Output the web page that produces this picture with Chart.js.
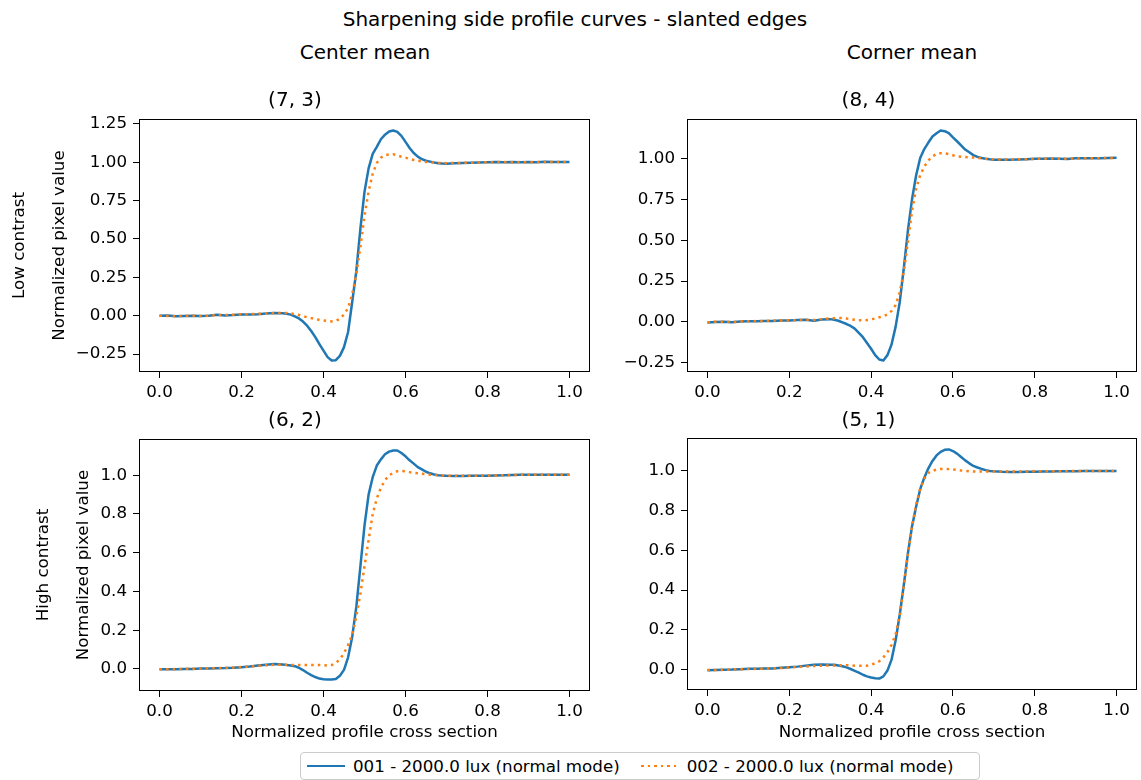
<!DOCTYPE html>
<html>
<head>
<meta charset="utf-8">
<title>Sharpening side profile curves - slanted edges</title>
<script src="https://cdn.jsdelivr.net/npm/chart.js@4.4.1/dist/chart.umd.min.js"></script>
<style>
  body { margin: 0; background: #fff; }
  #figure { position: relative; width: 1141px; height: 780px; overflow: hidden;
            font-family: 'DejaVu Sans', sans-serif; color: #000; }
  #figure canvas { position: absolute; }
  .label { position: absolute; transform: translate(-50%, -50%); white-space: nowrap; font-size: 20px; }
  #legend { position: absolute; left: 300px; top: 752px; width: 678px; height: 26px;
            border: 1px solid #cccccc; border-radius: 4px; background: #fff;
            display: flex; align-items: center; font-size: 16.7px; }
  .legend-item { display: flex; align-items: center; }
  .swatch { width: 38px; height: 2.5px; margin-right: 8px; }
</style>
</head>
<body>
<div id="figure">
  <div class="label" style="left:575px;top:19px">Sharpening side profile curves - slanted edges</div>
  <div class="label" style="left:365px;top:52px">Center mean</div>
  <div class="label" style="left:912px;top:52px">Corner mean</div>

  <canvas id="tl" width="600" height="320" style="left:0;top:80px;width:600px;height:320px"></canvas>
  <canvas id="tr" width="541" height="320" style="left:600px;top:80px;width:541px;height:320px"></canvas>
  <canvas id="bl" width="600" height="350" style="left:0;top:400px;width:600px;height:350px"></canvas>
  <canvas id="br" width="541" height="350" style="left:600px;top:400px;width:541px;height:350px"></canvas>

  <div id="legend"></div>
</div>

<script>
// x positions of the profile samples (finer through the edge)
const profileX = [
  0, 0.02, 0.04, 0.06, 0.08, 0.10, 0.12, 0.14, 0.16, 0.18, 0.20, 0.22, 0.24, 0.26, 0.28, 0.30,
  0.31, 0.32, 0.33, 0.34, 0.35, 0.36, 0.37, 0.38, 0.39, 0.40, 0.41, 0.42, 0.43, 0.44, 0.45, 0.46, 0.47, 0.48, 0.49, 0.50,
  0.51, 0.52, 0.53, 0.54, 0.55, 0.56, 0.57, 0.58, 0.59, 0.60, 0.61, 0.62, 0.63, 0.64, 0.65, 0.66, 0.67, 0.68, 0.69,
  0.70, 0.72, 0.74, 0.76, 0.78, 0.80, 0.82, 0.84, 0.86, 0.88, 0.90, 0.92, 0.94, 0.96, 0.98, 1.00
];

const seriesLabels = ['001 - 2000.0 lux (normal mode)', '002 - 2000.0 lux (normal mode)'];
const panelTitles = ['(7, 3)', '(8, 4)', '(6, 2)', '(5, 1)'];
const rowLabels = ['Low contrast', 'High contrast'];

// Center mean, low contrast (7, 3)
const centerLow001 = [
  0.000, 0.002, -0.004, -0.002, -0.001, -0.002, -0.001, 0.006, 0.002, 0.004, 0.008, 0.008, 0.010, 0.014, 0.017, 0.016,
  0.013, 0.007, -0.004, -0.018, -0.038, -0.065, -0.100, -0.140, -0.185, -0.228, -0.270, -0.292, -0.290, -0.262, -0.205, -0.106, 0.089, 0.290, 0.567, 0.807,
  0.960, 1.055, 1.100, 1.150, 1.180, 1.200, 1.207, 1.198, 1.172, 1.133, 1.093, 1.060, 1.037, 1.020, 1.010, 1.004, 0.998, 0.994, 0.992,
  0.991, 0.993, 0.995, 0.997, 0.998, 1.000, 1.002, 1.000, 1.002, 1.000, 1.001, 1.000, 1.003, 1.002, 1.002, 1.002
];
const centerLow002 = [
  0.000, -0.002, -0.003, -0.001, 0.000, -0.002, 0.000, 0.004, 0.004, 0.006, 0.009, 0.010, 0.012, 0.015, 0.017, 0.018,
  0.018, 0.015, 0.010, 0.004, -0.003, -0.010, -0.016, -0.022, -0.027, -0.031, -0.035, -0.037, -0.033, -0.020, 0.008, 0.050, 0.140, 0.270, 0.450, 0.650,
  0.810, 0.925, 0.995, 1.030, 1.046, 1.051, 1.052, 1.045, 1.036, 1.030, 1.022, 1.015, 1.010, 1.005, 1.002, 1.000, 0.998, 0.996, 0.995,
  0.994, 0.995, 0.996, 0.997, 0.999, 1.000, 1.001, 1.001, 1.000, 1.001, 1.000, 1.001, 1.002, 1.002, 1.001, 1.001
];

// Corner mean, low contrast (8, 4)
const cornerLow001 = [
  -0.004, -0.002, 0.000, -0.003, 0.002, 0.003, 0.003, 0.004, 0.005, 0.008, 0.008, 0.010, 0.012, 0.006, 0.014, 0.016,
  0.012, 0.006, -0.004, -0.014, -0.026, -0.042, -0.068, -0.095, -0.130, -0.166, -0.205, -0.232, -0.238, -0.205, -0.140, -0.030, 0.120, 0.330, 0.560, 0.750,
  0.898, 1.005, 1.060, 1.100, 1.137, 1.157, 1.174, 1.170, 1.158, 1.132, 1.108, 1.083, 1.057, 1.040, 1.023, 1.012, 1.005, 1.000, 0.997,
  0.995, 0.994, 0.995, 0.996, 0.998, 1.000, 1.000, 1.002, 1.001, 0.999, 1.003, 1.004, 1.003, 1.004, 1.005, 1.006
];
const cornerLow002 = [
  -0.004, 0.000, 0.000, -0.002, 0.002, 0.003, 0.004, 0.004, 0.008, 0.008, 0.009, 0.010, 0.012, 0.010, 0.016, 0.020,
  0.022, 0.023, 0.022, 0.020, 0.016, 0.012, 0.009, 0.008, 0.010, 0.015, 0.020, 0.027, 0.033, 0.045, 0.066, 0.103, 0.180, 0.310, 0.490, 0.680,
  0.815, 0.900, 0.952, 0.990, 1.015, 1.030, 1.035, 1.034, 1.029, 1.022, 1.016, 1.013, 1.011, 1.010, 1.008, 1.006, 1.003, 1.000, 0.998,
  0.997, 0.996, 0.996, 0.997, 0.998, 1.000, 1.000, 1.002, 1.001, 1.000, 1.002, 1.003, 1.003, 1.004, 1.005, 1.006
];

// Center mean, high contrast (6, 2)
const centerHigh001 = [
  -0.002, -0.002, -0.002, 0.000, 0.000, 0.002, 0.002, 0.003, 0.004, 0.006, 0.009, 0.012, 0.017, 0.021, 0.025, 0.023,
  0.020, 0.018, 0.014, 0.006, -0.006, -0.020, -0.032, -0.042, -0.050, -0.054, -0.055, -0.055, -0.052, -0.035, -0.005, 0.060, 0.165, 0.320, 0.530, 0.740,
  0.900, 0.990, 1.050, 1.082, 1.108, 1.122, 1.128, 1.128, 1.115, 1.098, 1.077, 1.060, 1.042, 1.030, 1.018, 1.010, 1.004, 1.000, 0.998,
  0.997, 0.996, 0.996, 0.997, 0.998, 0.998, 0.999, 1.000, 1.001, 1.002, 1.003, 1.003, 1.003, 1.003, 1.003, 1.003
];
const centerHigh002 = [
  -0.002, -0.002, -0.001, 0.000, 0.001, 0.002, 0.003, 0.004, 0.005, 0.007, 0.010, 0.012, 0.016, 0.019, 0.021, 0.021,
  0.021, 0.020, 0.020, 0.020, 0.020, 0.020, 0.020, 0.020, 0.020, 0.019, 0.017, 0.020, 0.030, 0.050, 0.080, 0.125, 0.175, 0.270, 0.390, 0.530,
  0.665, 0.800, 0.880, 0.936, 0.974, 1.000, 1.012, 1.021, 1.022, 1.020, 1.016, 1.012, 1.010, 1.008, 1.005, 1.003, 1.001, 1.000, 0.999,
  0.998, 0.997, 0.997, 0.998, 0.998, 0.999, 0.999, 1.000, 1.001, 1.002, 1.003, 1.003, 1.003, 1.003, 1.003, 1.003
];

// Corner mean, high contrast (5, 1)
const cornerHigh001 = [
  -0.003, -0.002, -0.001, 0.000, 0.002, 0.004, 0.004, 0.005, 0.006, 0.009, 0.012, 0.015, 0.020, 0.024, 0.026, 0.025,
  0.024, 0.021, 0.017, 0.011, 0.003, -0.006, -0.015, -0.026, -0.034, -0.040, -0.044, -0.045, -0.034, -0.005, 0.050, 0.148, 0.276, 0.427, 0.585, 0.720,
  0.820, 0.908, 0.966, 1.013, 1.050, 1.078, 1.096, 1.106, 1.108, 1.100, 1.087, 1.070, 1.053, 1.038, 1.025, 1.017, 1.010, 1.004, 1.000,
  0.998, 0.996, 0.995, 0.995, 0.996, 0.996, 0.997, 0.997, 0.998, 0.998, 0.998, 0.999, 0.999, 1.000, 1.000, 1.000
];
const cornerHigh002 = [
  -0.002, -0.002, -0.001, 0.001, 0.002, 0.003, 0.004, 0.005, 0.006, 0.008, 0.011, 0.013, 0.016, 0.018, 0.020, 0.021,
  0.021, 0.022, 0.022, 0.022, 0.021, 0.020, 0.020, 0.020, 0.020, 0.024, 0.032, 0.042, 0.062, 0.088, 0.125, 0.176, 0.270, 0.420, 0.580, 0.720,
  0.830, 0.910, 0.960, 0.990, 1.000, 1.007, 1.010, 1.010, 1.009, 1.007, 1.005, 1.002, 1.000, 0.998, 0.997, 0.997, 0.997, 0.997, 0.997,
  0.997, 0.997, 0.997, 0.997, 0.997, 0.998, 0.998, 0.998, 0.998, 0.999, 0.999, 0.999, 0.999, 1.000, 1.000, 1.000
];

// tick values
const xTickValues = [0, 0.2, 0.4, 0.6, 0.8, 1.0];
const yTicksCenterLow = [-0.25, 0, 0.25, 0.5, 0.75, 1.0, 1.25];
const yTicksCornerLow = [-0.25, 0, 0.25, 0.5, 0.75, 1.0];
const yTicksHigh = [0, 0.2, 0.4, 0.6, 0.8, 1.0];

const BLUE = '#1f77b4';
const ORANGE = '#ff7f0e';

Chart.defaults.font.family = "'DejaVu Sans', sans-serif";
Chart.defaults.color = '#000';

function fmt(v, d) {
    return (v < 0 ? '\u2212' : '') + Math.abs(v).toFixed(d);
}

function toPoints(ys) {
    return profileX.map((x, i) => ({ x: x, y: ys[i] }));
}

// matplotlib-like box round the plot area
const framePlugin = {
    id: 'frame',
    afterDraw(chart) {
        const { ctx, chartArea: a } = chart;
        ctx.save();
        ctx.strokeStyle = '#000';
        ctx.lineWidth = 1;
        ctx.strokeRect(Math.round(a.left) + 0.5, Math.round(a.top) + 0.5,
            Math.round(a.right - a.left) - 1, Math.round(a.bottom - a.top) - 1);
        ctx.restore();
    }
};

function makePanel(canvasId, cfg) {
    const all = cfg.s1.concat(cfg.s2);
    const lo = Math.min(...all);
    const hi = Math.max(...all);
    const pad = (hi - lo) * 0.05;
    const tickFont = { size: 16.7 };
    const gridOpts = { drawOnChartArea: false, drawTicks: true, tickLength: 6, color: '#000', lineWidth: 1 };

    return new Chart(document.getElementById(canvasId).getContext('2d'), {
        type: 'line',
        data: {
            datasets: [{
                label: seriesLabels[0],
                data: toPoints(cfg.s1),
                borderColor: BLUE,
                borderWidth: 2.5,
                borderJoinStyle: 'round',
                pointRadius: 0,
                order: 2
            }, {
                label: seriesLabels[1],
                data: toPoints(cfg.s2),
                borderColor: ORANGE,
                borderWidth: 2.5,
                borderDash: [2.5, 4.1],
                borderCapStyle: 'butt',
                pointRadius: 0,
                order: 1
            }]
        },
        options: {
            responsive: false,
            animation: false,
            devicePixelRatio: 1,
            layout: { padding: { left: 0, right: cfg.padRight, top: 0, bottom: 0 } },
            plugins: {
                legend: { display: false },
                tooltip: { enabled: false },
                title: {
                    display: true,
                    text: cfg.title,
                    color: '#000',
                    font: { size: 20, weight: 'normal', lineHeight: 1.2 },
                    padding: { top: 9, bottom: cfg.titleGap }
                }
            },
            scales: {
                x: {
                    type: 'linear',
                    min: -0.05,
                    max: 1.05,
                    afterBuildTicks: (s) => { s.ticks = xTickValues.map(v => ({ value: v })); },
                    afterFit: (s) => { s.height = cfg.xAxisHeight; },
                    grid: gridOpts,
                    border: { display: false },
                    ticks: { autoSkip: false, maxRotation: 0, padding: 5, font: tickFont, color: '#000',
                             callback: (v) => fmt(v, 1) },
                    title: {
                        display: cfg.xTitle,
                        text: 'Normalized profile cross section',
                        color: '#000',
                        font: { size: 16.7, lineHeight: 1.2 },
                        padding: { top: 0, bottom: 7 }
                    }
                },
                y: {
                    type: 'linear',
                    min: lo - pad,
                    max: hi + pad,
                    afterBuildTicks: (s) => { s.ticks = cfg.yTicks.map(v => ({ value: v })); },
                    afterFit: (s) => { s.width = cfg.yAxisWidth; },
                    grid: gridOpts,
                    border: { display: false },
                    ticks: { autoSkip: false, padding: 6, font: tickFont, color: '#000',
                             callback: (v) => fmt(v, cfg.decimals) },
                    title: {
                        display: cfg.rowLabel !== null,
                        text: [cfg.rowLabel || '', '', 'Normalized pixel value'],
                        color: '#000',
                        font: { size: 16.7, lineHeight: 1.2 },
                        padding: { top: cfg.yTitlePad, bottom: 0 }
                    }
                }
            }
        },
        plugins: [framePlugin]
    });
}

function buildLegend() {
    const legend = document.getElementById('legend');
    const colours = [BLUE, ORANGE];
    seriesLabels.forEach((label, i) => {
        const item = document.createElement('div');
        item.className = 'legend-item';
        item.style.marginLeft = i === 0 ? '6px' : '21px';
        const sw = document.createElement('span');
        sw.className = 'swatch';
        sw.style.background = i === 0
            ? colours[i]
            : 'repeating-linear-gradient(to right, ' + colours[i] + ' 0 2.5px, transparent 2.5px 6.6px)';
        const txt = document.createElement('span');
        txt.textContent = label;
        item.appendChild(sw);
        item.appendChild(txt);
        legend.appendChild(item);
    });
}

document.addEventListener('DOMContentLoaded', function() {
    makePanel('tl', { title: panelTitles[0], s1: centerLow001, s2: centerLow002, yTicks: yTicksCenterLow, decimals: 2,
        rowLabel: rowLabels[0], yTitlePad: 9.5, yAxisWidth: 139, padRight: 10, titleGap: 6, xAxisHeight: 28, xTitle: false });
    makePanel('tr', { title: panelTitles[1], s1: cornerLow001, s2: cornerLow002, yTicks: yTicksCornerLow, decimals: 2,
        rowLabel: null, yTitlePad: 0, yAxisWidth: 87, padRight: 4, titleGap: 6, xAxisHeight: 28, xTitle: false });
    makePanel('bl', { title: panelTitles[2], s1: centerHigh001, s2: centerHigh002, yTicks: yTicksHigh, decimals: 1,
        rowLabel: rowLabels[1], yTitlePad: 34, yAxisWidth: 139, padRight: 10, titleGap: 6, xAxisHeight: 59, xTitle: true });
    makePanel('br', { title: panelTitles[3], s1: cornerHigh001, s2: cornerHigh002, yTicks: yTicksHigh, decimals: 1,
        rowLabel: null, yTitlePad: 0, yAxisWidth: 87, padRight: 4, titleGap: 5, xAxisHeight: 60, xTitle: true });
    buildLegend();
});
</script>
</body>
</html>
